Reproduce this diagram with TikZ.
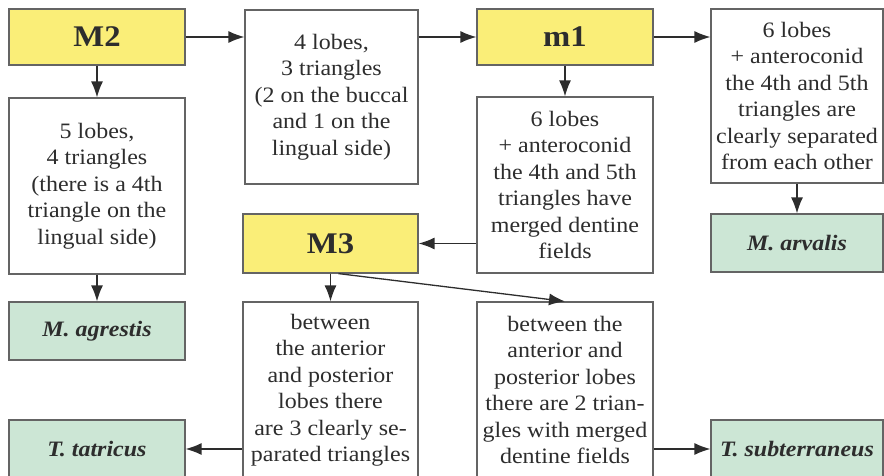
\documentclass[tikz,border=0pt]{standalone}
\usepackage{fontspec}
\setmainfont{Liberation Serif}[FakeStretch=1.09]
\usetikzlibrary{arrows.meta}
\definecolor{hdr}{RGB}{250,238,120}
\definecolor{leaf}{RGB}{204,230,213}
\definecolor{ink}{RGB}{45,45,45}
\definecolor{edge}{RGB}{100,100,100}

\begin{document}
\begin{tikzpicture}[x=1pt,y=-1pt,
  box/.style={draw=edge, line width=1.2pt, fill=white, text=ink, align=center,
    inner sep=0pt, font=\fontsize{22}{26.5}\selectfont},
  hdrbox/.style={box, fill=hdr, font=\fontsize{30}{32}\selectfont\bfseries},
  leafbox/.style={box, fill=leaf, font=\fontsize{22}{26}\selectfont\bfseries\itshape},
  arr/.style={draw=ink, line width=1.3pt, -{Latex[length=16pt,width=12pt]}}]
\useasboundingbox (0,0) rectangle (884,476);

% tooth headers
\node[hdrbox, minimum width=176pt, minimum height=56pt] (M2) at (97,37) {M2};
\node[hdrbox, minimum width=176pt, minimum height=56pt] (m1) at (565,37) {m1};
\node[hdrbox, minimum width=175pt, minimum height=59pt] (M3) at (330.5,243.5) {M3};

% character descriptions
\node[box, minimum width=173pt, minimum height=174pt] (L4) at (331.5,97)
  {4 lobes,\\3 triangles\\(2 on the buccal\\and 1 on the\\lingual side)};
\node[box, minimum width=172pt, minimum height=174pt] (sep) at (797,96)
  {6 lobes\\+ anteroconid\\the 4th and 5th\\triangles are\\clearly separated\\from each other};
\node[box, minimum width=176pt, minimum height=176pt] (L5) at (97,186)
  {5 lobes,\\4 triangles\\(there is a 4th\\triangle on the\\lingual side)};
\node[box, minimum width=176pt, minimum height=176pt] (merged) at (565,185)
  {6 lobes\\+ anteroconid\\the 4th and 5th\\triangles have\\merged dentine\\fields};
\node[box, minimum width=175pt, minimum height=176pt] (btwL) at (330.5,390)
  {between\\the anterior\\and posterior\\lobes there\\are 3 clearly se-\\parated triangles};
\node[box, minimum width=176pt, minimum height=176pt] (btwR) at (565,390)
  {between the\\anterior and\\posterior lobes\\there are 2 trian-\\gles with merged\\dentine fields};

% species
\node[leafbox, minimum width=176pt, minimum height=58pt] (agr) at (97,331) {M. agrestis};
\node[leafbox, minimum width=172pt, minimum height=58pt] (arv) at (797,243) {M. arvalis};
\node[leafbox, minimum width=176pt, minimum height=58pt] (tat) at (97,449) {T. tatricus};
\node[leafbox, minimum width=172pt, minimum height=58pt] (sub) at (797,449) {T. subterraneus};

% connectors
\draw[arr] (M2.east) -- (M2.east -| L4.west);
\draw[arr] (M2.south) -- (L5.north);
\draw[arr] (L4.east |- m1) -- (m1.west);
\draw[arr] (m1.east) -- (m1.east -| sep.west);
\draw[arr] (m1.south) -- (merged.north);
\draw[arr] (merged.west |- M3) -- (M3.east);
\draw[arr] (M3.south) -- (btwL.north);
\draw[arr] ([xshift=8pt]M3.south) -- (btwR.north);
\draw[arr] (L5.south) -- (agr.north);
\draw[arr] (sep.south) -- (arv.north);
\draw[arr] (btwL.west |- tat) -- (tat.east);
\draw[arr] (btwR.east |- sub) -- (sub.west);
\end{tikzpicture}
\end{document}
